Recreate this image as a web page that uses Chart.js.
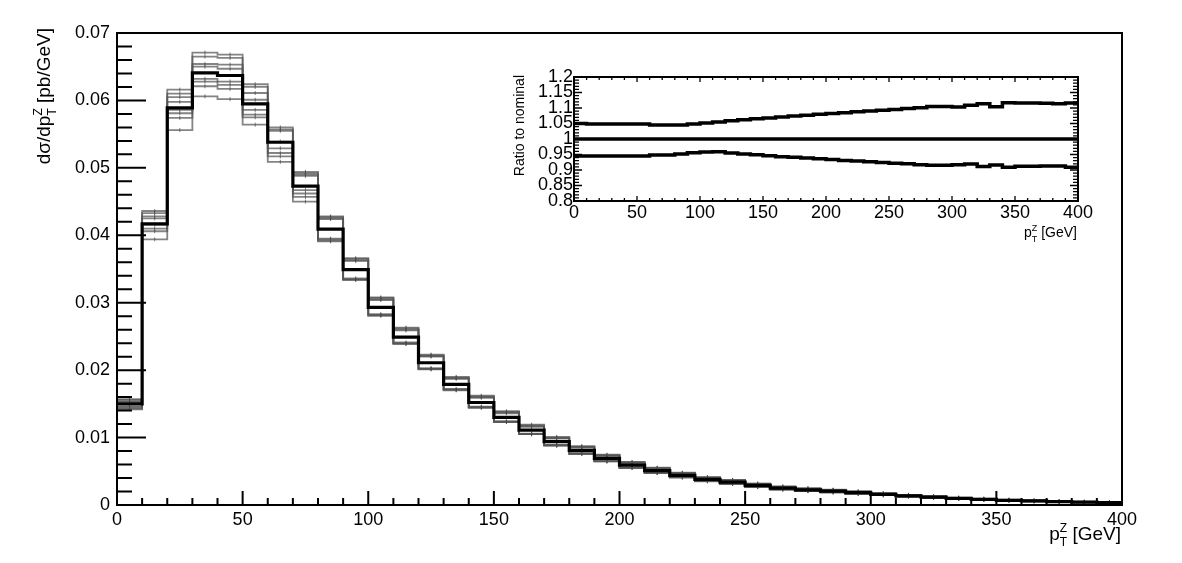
<!DOCTYPE html>
<html>
<head>
<meta charset="utf-8">
<script src="https://cdn.jsdelivr.net/npm/chart.js@4.4.1/dist/chart.umd.min.js"></script>
<style>
  html, body { margin: 0; padding: 0; background: #fff; }
  #wrap { position: relative; width: 1182px; height: 563px; }
  #main { position: absolute; left: 0; top: 0; }
  #ratio { position: absolute; left: 500px; top: 60px; }
</style>
</head>
<body>
<div id="wrap">
  <canvas id="main" width="1182" height="563"></canvas>
  <canvas id="ratio" width="600" height="190"></canvas>
</div>
<script>
// bin edges in GeV
const binEdges = [0, 10, 20, 30, 40, 50, 60, 70, 80, 90, 100, 110, 120, 130, 140, 150, 160, 170, 180, 190, 200,
  210, 220, 230, 240, 250, 260, 270, 280, 290, 300, 310, 320, 330, 340, 350, 360, 370, 380, 390, 400];

// nominal dsigma/dpT [pb/GeV]
const nominal = [0.0150, 0.0417, 0.0589, 0.0641, 0.0637, 0.0595, 0.0538, 0.0473, 0.0409, 0.0349,
  0.0293, 0.0249, 0.0211, 0.0179, 0.0152, 0.0130, 0.0111, 0.0094, 0.0081, 0.0069,
  0.0059, 0.0051, 0.0044, 0.0038, 0.0034, 0.0029, 0.0025, 0.00225, 0.00205, 0.00183,
  0.00158, 0.00136, 0.00116, 0.00098, 0.00083, 0.00070, 0.00060, 0.00050, 0.00043, 0.00037];

// systematic variations (grey)
const var1 = [.0157, .0436, .0616, .0671, .0668, .0624, .0560, .0494, .0428, .0366, .0308, .0263, .0223, .0190, .0162, .0139, .0119, .0101, .0087, .00745,
  .00638, .00553, .00479, .00414, .00372, .00318, .00275, .00248, .00227, .00202, .00174, .00151, .00129, .00108, .00093, .00078, .00067, .00056, .00048, .00041];
const var2 = [.0156, .0433, .0610, .0665, .0663, .0620, .0557, .0492, .0427, .0365, .0307, .0262, .0222, .0189, .0161, .0138, .0118, .0100, .0087, .00740,
  .00634, .00549, .00475, .00411, .00369, .00315, .00272, .00245, .00224, .00200, .00172, .00149, .00128, .00107, .00092, .00077, .00066, .00055, .00047, .00041];
const var3 = [.0154, .0428, .0605, .0654, .0653, .0611, .0555, .0490, .0425, .0363, .0305, .0260, .0221, .0188, .0160, .0137, .0117, .0099, .0086, .00734,
  .00628, .00544, .00471, .00407, .00365, .00312, .00269, .00243, .00222, .00198, .00170, .00147, .00126, .00106, .00091, .00076, .00065, .00055, .00047, .00040];
const var4 = [.0153, .0425, .0598, .0650, .0647, .0601, .0539, .0488, .0424, .0362, .0304, .0259, .0220, .0187, .0159, .0136, .0116, .0099, .0085, .00728,
  .00622, .00539, .00466, .00403, .00361, .00309, .00266, .00240, .00219, .00196, .00168, .00145, .00124, .00105, .00090, .00075, .00064, .00054, .00046, .00040];
const var5 = [.0146, .0416, .0586, .0632, .0628, .0586, .0529, .0467, .0395, .0336, .0283, .0241, .0203, .0172, .0146, .0124, .0106, .0089, .0077, .00652,
  .00556, .00480, .00413, .00356, .00318, .00271, .00233, .00209, .00190, .00170, .00147, .00127, .00108, .00091, .00076, .00065, .00056, .00046, .00040, .00034];
const var6 = [.0145, .0410, .0581, .0628, .0623, .0579, .0522, .0462, .0394, .0335, .0282, .0240, .0202, .0171, .0145, .0124, .0105, .0089, .0076, .00650,
  .00554, .00478, .00411, .00354, .00316, .00269, .00232, .00208, .00189, .00169, .00146, .00126, .00107, .00091, .00076, .00065, .00055, .00046, .00040, .00034];
const var7 = [.0143, .0406, .0574, .0621, .0617, .0575, .0517, .0457, .0392, .0334, .0281, .0239, .0202, .0171, .0145, .0123, .0105, .0088, .0076, .00648,
  .00552, .00476, .00410, .00353, .00315, .00268, .00231, .00207, .00188, .00168, .00145, .00125, .00106, .00090, .00075, .00064, .00055, .00046, .00039, .00034];
const var8 = [.0142, .0394, .0556, .0606, .0602, .0564, .0509, .0450, .0391, .0334, .0281, .0239, .0201, .0170, .0144, .0123, .0105, .0088, .0076, .00646,
  .00551, .00475, .00409, .00352, .00314, .00267, .00230, .00206, .00188, .00167, .00145, .00125, .00106, .00090, .00075, .00064, .00055, .00046, .00039, .00034];
const variations = [var1, var2, var3, var4, var5, var6, var7, var8];

// ratio to nominal (inset)
const ratioUp = [1.050, 1.048, 1.048, 1.048, 1.048, 1.048, 1.045, 1.045, 1.045, 1.048,
  1.052, 1.055, 1.059, 1.062, 1.065, 1.068, 1.071, 1.074, 1.077, 1.080,
  1.082, 1.085, 1.088, 1.090, 1.093, 1.095, 1.098, 1.101, 1.105, 1.105,
  1.103, 1.109, 1.114, 1.104, 1.117, 1.116, 1.116, 1.115, 1.114, 1.116];
const ratioDown = [0.945, 0.945, 0.945, 0.945, 0.945, 0.945, 0.948, 0.948, 0.952, 0.956,
  0.958, 0.959, 0.955, 0.952, 0.949, 0.946, 0.943, 0.941, 0.939, 0.936,
  0.934, 0.931, 0.929, 0.927, 0.924, 0.922, 0.920, 0.917, 0.915, 0.915,
  0.917, 0.919, 0.911, 0.916, 0.909, 0.912, 0.912, 0.913, 0.913, 0.909];
const ratioNominal = [1, 1, 1, 1, 1, 1, 1, 1, 1, 1, 1, 1, 1, 1, 1, 1, 1, 1, 1, 1,
  1, 1, 1, 1, 1, 1, 1, 1, 1, 1, 1, 1, 1, 1, 1, 1, 1, 1, 1, 1];

const FONT = "'Liberation Sans', Arial, Helvetica, sans-serif";

// histogram -> step points (value held until next edge)
function histPoints(vals) {
  const pts = vals.map((v, i) => ({ x: binEdges[i], y: v }));
  pts.push({ x: binEdges[vals.length], y: vals[vals.length - 1] });
  return pts;
}

// ROOT style frame with ticks inside
const rootFrame = {
  id: 'rootFrame',
  afterDraw(chart, args, o) {
    const { ctx, chartArea: a, scales: { x, y } } = chart;
    ctx.save();
    ctx.strokeStyle = '#000';
    ctx.lineWidth = o.tickWidth;
    ctx.beginPath();
    const xTicks = (step, len) => {
      const n = Math.round((x.max - x.min) / step);
      for (let i = 0; i <= n; i++) {
        const px = x.getPixelForValue(x.min + i * step);
        if (o.bottom) { ctx.moveTo(px, a.bottom); ctx.lineTo(px, a.bottom - len); }
        if (o.top) { ctx.moveTo(px, a.top); ctx.lineTo(px, a.top + len); }
      }
    };
    const yTicks = (step, len) => {
      const n = Math.round((y.max - y.min) / step);
      for (let i = 0; i <= n; i++) {
        const py = y.getPixelForValue(y.min + i * step);
        if (o.left) { ctx.moveTo(a.left, py); ctx.lineTo(a.left + len, py); }
        if (o.right) { ctx.moveTo(a.right, py); ctx.lineTo(a.right - len, py); }
      }
    };
    xTicks(o.xMajor, o.xMajLen);
    xTicks(o.xMinor, o.xMinLen);
    yTicks(o.yMajor, o.yMajLen);
    yTicks(o.yMinor, o.yMinLen);
    ctx.stroke();
    ctx.lineWidth = o.frameWidth;
    ctx.strokeRect(a.left, a.top, a.right - a.left, a.bottom - a.top);
    ctx.restore();
  }
};

// small markers at bin centres of the grey curves
const binMarkers = {
  id: 'binMarkers',
  afterDatasetDraw(chart, args) {
    const ds = chart.data.datasets[args.index];
    if (!ds.markers) return;
    const { ctx, scales: { x, y } } = chart;
    ctx.save();
    ctx.strokeStyle = 'rgba(70,70,70,0.7)';
    ctx.lineWidth = 1;
    ctx.beginPath();
    for (let i = 0; i < binEdges.length - 1; i++) {
      const px = x.getPixelForValue((binEdges[i] + binEdges[i + 1]) / 2);
      const py = y.getPixelForValue(ds.data[i].y);
      ctx.moveTo(px, py - 2); ctx.lineTo(px, py + 2);
    }
    ctx.stroke();
    ctx.restore();
  }
};

// text like  pre + (sup over sub) + post, right aligned at x
function drawScript(ctx, x, y, size, pre, sup, sub, post) {
  const small = Math.round(size * 0.65);
  ctx.font = size + 'px ' + FONT;
  const w1 = ctx.measureText(pre).width;
  const w3 = ctx.measureText(post).width;
  ctx.font = small + 'px ' + FONT;
  const w2 = Math.max(ctx.measureText(sup).width, ctx.measureText(sub).width);
  let cx = x - (w1 + w2 + w3);
  ctx.fillStyle = '#000';
  ctx.textAlign = 'left';
  ctx.textBaseline = 'alphabetic';
  ctx.font = size + 'px ' + FONT;
  ctx.fillText(pre, cx, y);
  cx += w1;
  ctx.font = small + 'px ' + FONT;
  ctx.fillText(sup, cx, y - size * 0.42);
  ctx.fillText(sub, cx, y + size * 0.33);
  cx += w2;
  ctx.font = size + 'px ' + FONT;
  ctx.fillText(post, cx, y);
}

const mainTitles = {
  id: 'mainTitles',
  afterDraw(chart) {
    const ctx = chart.ctx;
    ctx.save();
    drawScript(ctx, 1121, 540, 19, 'p', 'Z', 'T', ' [GeV]');
    ctx.translate(50, 28);
    ctx.rotate(-Math.PI / 2);
    drawScript(ctx, 0, 0, 19, 'd\u03c3/dp', 'Z', 'T', ' [pb/GeV]');
    ctx.restore();
  }
};

const ratioTitles = {
  id: 'ratioTitles',
  afterDraw(chart) {
    const ctx = chart.ctx;
    ctx.save();
    // canvas offset (500, 60)
    drawScript(ctx, 577, 177, 14, 'p', 'Z', 'T', ' [GeV]');
    ctx.translate(24, 15);
    ctx.rotate(-Math.PI / 2);
    ctx.font = '14px ' + FONT;
    ctx.fillStyle = '#000';
    ctx.textAlign = 'right';
    ctx.textBaseline = 'alphabetic';
    ctx.fillText('Ratio to nominal', 0, 0);
    ctx.restore();
  }
};

const greyStyle = {
  borderColor: 'rgba(85,85,85,0.72)',
  borderWidth: 1.8,
  pointRadius: 0,
  stepped: 'before',
  fill: false,
  markers: true
};

const mainDatasets = [{
  label: 'nominal',
  data: histPoints(nominal),
  borderColor: '#000',
  borderWidth: 3.2,
  pointRadius: 0,
  stepped: 'before',
  fill: false
}].concat(variations.map((v, i) => Object.assign({ label: 'var' + (i + 1), data: histPoints(v) }, greyStyle)));

new Chart(document.getElementById('main').getContext('2d'), {
  type: 'line',
  data: { datasets: mainDatasets },
  options: {
    responsive: false,
    animation: false,
    devicePixelRatio: 1,
    layout: { padding: { top: 33, right: 60, left: 0, bottom: 0 } },
    plugins: {
      legend: { display: false },
      tooltip: { enabled: false },
      rootFrame: {
        frameWidth: 2, tickWidth: 2,
        left: true, bottom: true, top: false, right: false,
        xMajor: 50, xMinor: 10, xMajLen: 14, xMinLen: 7,
        yMajor: 0.01, yMinor: 0.002, yMajLen: 29, yMinLen: 15
      }
    },
    scales: {
      x: {
        type: 'linear', min: 0, max: 400,
        grid: { display: false, drawTicks: false },
        border: { display: false },
        afterFit: s => { s.height = 58; },
        ticks: {
          stepSize: 50, autoSkip: false, maxRotation: 0, padding: 4,
          color: '#000', font: { family: FONT, size: 18 },
          callback: v => String(v)
        }
      },
      y: {
        type: 'linear', min: 0, max: 0.07,
        grid: { display: false, drawTicks: false },
        border: { display: false },
        afterFit: s => { s.width = 117; },
        ticks: {
          stepSize: 0.01, autoSkip: false, padding: 7,
          color: '#000', font: { family: FONT, size: 18 },
          callback: v => String(+v.toFixed(2))
        }
      }
    }
  },
  plugins: [rootFrame, binMarkers, mainTitles]
});

const ratioLine = { borderColor: '#000', borderWidth: 3.5, pointRadius: 0, stepped: 'before', fill: false };

new Chart(document.getElementById('ratio').getContext('2d'), {
  type: 'line',
  data: {
    datasets: [
      Object.assign({ label: 'nominal', data: histPoints(ratioNominal) }, ratioLine),
      Object.assign({ label: 'up', data: histPoints(ratioUp) }, ratioLine),
      Object.assign({ label: 'down', data: histPoints(ratioDown) }, ratioLine)
    ]
  },
  options: {
    responsive: false,
    animation: false,
    devicePixelRatio: 1,
    layout: { padding: { top: 17, right: 22, left: 0, bottom: 0 } },
    plugins: {
      legend: { display: false },
      tooltip: { enabled: false },
      rootFrame: {
        frameWidth: 2, tickWidth: 1.3,
        left: true, bottom: true, top: true, right: true,
        xMajor: 50, xMinor: 10, xMajLen: 5, xMinLen: 3,
        yMajor: 0.05, yMinor: 0.01, yMajLen: 8, yMinLen: 5
      }
    },
    scales: {
      x: {
        type: 'linear', min: 0, max: 400,
        grid: { display: false, drawTicks: false },
        border: { display: false },
        afterFit: s => { s.height = 49; },
        ticks: {
          stepSize: 50, autoSkip: false, maxRotation: 0, padding: 1,
          color: '#000', font: { family: FONT, size: 18 },
          callback: v => String(v)
        }
      },
      y: {
        type: 'linear', min: 0.8, max: 1.2,
        grid: { display: false, drawTicks: false },
        border: { display: false },
        afterFit: s => { s.width = 74; },
        ticks: {
          stepSize: 0.05, autoSkip: false, padding: 1,
          color: '#000', font: { family: FONT, size: 18 },
          callback: v => String(+v.toFixed(2))
        }
      }
    }
  },
  plugins: [rootFrame, ratioTitles]
});
</script>
</body>
</html>
